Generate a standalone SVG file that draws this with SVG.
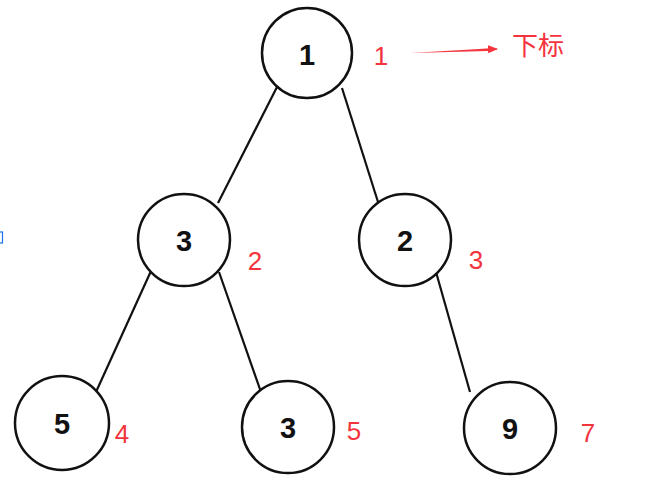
<svg xmlns="http://www.w3.org/2000/svg" width="649" height="489" viewBox="0 0 649 489">
<style>
.node circle{fill:#fff;stroke:#111;stroke-width:2.5}
.node text{font-family:"Liberation Sans",Arial,sans-serif;font-weight:bold;font-size:29px;fill:#111;text-anchor:middle;dominant-baseline:central}
.edge{stroke:#111;stroke-width:2.2;fill:none}
.idx{font-family:"Liberation Sans",Arial,sans-serif;font-size:26px;fill:#f4333d;text-anchor:middle;dominant-baseline:central}
</style>
<defs>
<marker id="ah" markerWidth="10" markerHeight="8" refX="9" refY="4" orient="auto" markerUnits="userSpaceOnUse">
<path d="M0,0 L10,4 L0,8 Z" fill="#f4333d"/>
</marker>
</defs>
<rect width="649" height="489" fill="#fff"/>
<rect x="-1" y="232" width="3.5" height="11" fill="none" stroke="#1a73e8" stroke-width="1.2"/>
<g id="connectors">
<line class="edge" x1="277" y1="87" x2="218" y2="203"/>
<line class="edge" x1="342" y1="88" x2="378" y2="202"/>
<line class="edge" x1="151" y1="271" x2="96" y2="392"/>
<line class="edge" x1="219" y1="272" x2="262" y2="395"/>
<line class="edge" x1="436" y1="272" x2="470" y2="392"/>
<polygon points="410,53 488,48.5 488,51" fill="#f4333d"/>
<line x1="480" y1="49.5" x2="497" y2="49" stroke="#f4333d" stroke-width="1" marker-end="url(#ah)"/>
</g>
<g id="n1" class="node"><circle cx="307" cy="53" r="45"/><text x="307" y="55">1</text></g>
<g id="n2" class="node"><circle cx="184" cy="240" r="46"/><text x="184" y="241">3</text></g>
<g id="n3" class="node"><circle cx="405" cy="240" r="46"/><text x="405" y="241">2</text></g>
<g id="n4" class="node"><circle cx="62" cy="423" r="47"/><text x="62" y="424">5</text></g>
<g id="n5" class="node"><circle cx="288" cy="427" r="46"/><text x="288" y="428">3</text></g>
<g id="n6" class="node"><circle cx="510" cy="428" r="46"/><text x="510" y="429">9</text></g>
<g id="labels">
<text class="idx" x="381" y="56">1</text>
<text class="idx" x="255" y="261">2</text>
<text class="idx" x="476" y="260">3</text>
<text class="idx" x="122" y="434">4</text>
<text class="idx" x="354" y="431">5</text>
<text class="idx" x="588" y="433">7</text>
<text class="idx" x="538" y="46" style="font-family:'Liberation Sans','Noto Sans CJK SC',sans-serif">下标</text>
</g>
</svg>
